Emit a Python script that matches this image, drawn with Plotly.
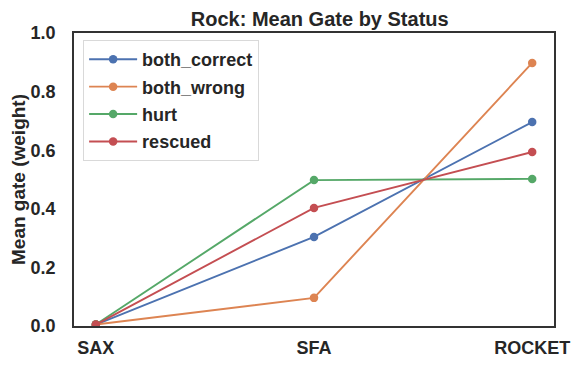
import plotly.graph_objects as go

# data
stages = ["SAX", "SFA", "ROCKET"]
both_correct = [0.005, 0.304, 0.696]
both_wrong = [0.005, 0.096, 0.898]
hurt = [0.005, 0.498, 0.502]
rescued = [0.005, 0.403, 0.594]

series = [
    ("both_correct", both_correct, "#4C72B0"),
    ("both_wrong", both_wrong, "#DD8452"),
    ("hurt", hurt, "#55A868"),
    ("rescued", rescued, "#C44E52"),
]

fig = go.Figure()
for name, vals, col in series:
    fig.add_trace(go.Scatter(
        x=stages, y=vals, name=f"<b>{name}</b>", mode="lines+markers",
        legendgroup=name,
        line=dict(color=col, width=1.9),
        marker=dict(color=col, size=8.5),
    ))

# page body has an 8px default margin, so the figure is shrunk by that much
font = "Liberation Sans, Arial, sans-serif"
fig.update_layout(
    width=572, height=359,
    margin=dict(l=66, r=26, t=25, b=41),
    paper_bgcolor="white", plot_bgcolor="white",
    font=dict(family=font, size=18, color="#262626"),
    title=dict(text="<b>Rock: Mean Gate by Status</b>", x=0.545, xanchor="center",
               y=0.97, yanchor="middle", font=dict(size=20, color="#262626")),
    legend=dict(x=0.019, y=0.976, xanchor="left", yanchor="top",
                bgcolor="white", bordercolor="#d9d9d9", borderwidth=1,
                itemwidth=48, tracegroupgap=1,
                font=dict(size=18, color="#262626")),
    showlegend=True,
)

fig.update_xaxes(
    type="category", range=[-0.1, 2.1], automargin=False,
    showline=True, linecolor="#333333", linewidth=1.5, mirror=True,
    showgrid=False, ticks="", ticklabelstandoff=5,
    tickvals=stages, ticktext=[f"<b>{s}</b>" for s in stages],
)
fig.update_yaxes(
    range=[0, 1], tickvals=[0, 0.2, 0.4, 0.6, 0.8, 1.0], automargin=False,
    ticktext=[f"<b>{v:.1f}</b>" for v in [0, 0.2, 0.4, 0.6, 0.8, 1.0]],
    showline=True, linecolor="#333333", linewidth=1.5, mirror=True,
    showgrid=False, zeroline=False, ticks="", ticklabelstandoff=13,
    title=dict(text="<b>Mean gate (weight)</b>", standoff=6, font=dict(size=19)),
)

fig.write_html("out.html")
